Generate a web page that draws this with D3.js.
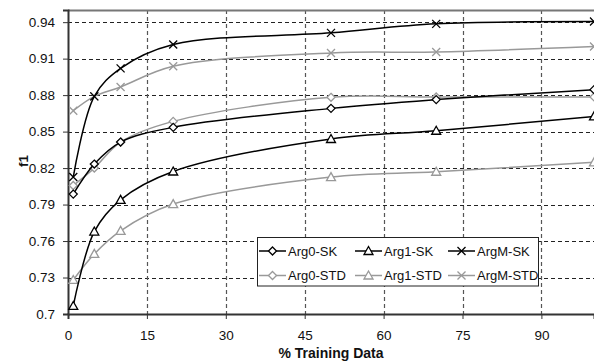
<!DOCTYPE html>
<html><head><meta charset="utf-8">
<script src="https://cdn.jsdelivr.net/npm/d3@7"></script>
<style>body{margin:0;background:#fff}svg{display:block;font-family:"Liberation Sans",Arial,sans-serif}</style>
</head><body><svg id="c" width="594" height="362"></svg>
<script>
const xValues = [1, 5, 10, 20, 50, 70, 100];
const arg0SK  = [0.7986, 0.8233, 0.8414, 0.8535, 0.8691, 0.8763, 0.8845];
const arg1SK  = [0.7066, 0.7678, 0.7939, 0.8172, 0.8439, 0.8507, 0.8625];
const argMSK  = [0.8126, 0.8790, 0.9020, 0.9216, 0.9312, 0.9386, 0.9405];
const arg0STD = [0.8057, 0.8200, 0.8414, 0.8584, 0.8782, 0.8785, 0.8785];
const arg1STD = [0.7280, 0.7494, 0.7684, 0.7904, 0.8126, 0.8170, 0.8247];
const argMSTD = [0.8672, 0.8790, 0.8867, 0.9037, 0.9147, 0.9155, 0.9200];
const seriesNames = ["Arg0-SK","Arg1-SK","ArgM-SK","Arg0-STD","Arg1-STD","ArgM-STD"];
const xTicks = [0, 15, 30, 45, 60, 75, 90];
const yTicks = [0.7, 0.73, 0.76, 0.79, 0.82, 0.85, 0.88, 0.91, 0.94];

const series = [
  {name: seriesNames[0], values: arg0SK, color: "#000", marker: "diamond"},
  {name: seriesNames[1], values: arg1SK, color: "#000", marker: "triangle"},
  {name: seriesNames[2], values: argMSK, color: "#000", marker: "x"},
  {name: seriesNames[3], values: arg0STD, color: "#999", marker: "diamond"},
  {name: seriesNames[4], values: arg1STD, color: "#999", marker: "triangle"},
  {name: seriesNames[5], values: argMSTD, color: "#999", marker: "x"}
];

const svg = d3.select("#c");
const L = 68, R = 594, T = 10, B = 314;
const x = d3.scaleLinear().domain([0, 100]).range([L, R]);
const y = d3.scaleLinear().domain([0.7, 0.95]).range([B, T]);

// gridlines
svg.append("g").selectAll("line").data(yTicks.slice(1)).join("line")
  .attr("x1", L).attr("x2", R).attr("y1", d => Math.round(y(d)) + 0.5).attr("y2", d => Math.round(y(d)) + 0.5)
  .attr("stroke", "#222").attr("stroke-dasharray", "4,3");
svg.append("g").selectAll("line").data(xTicks.slice(1)).join("line")
  .attr("y1", T).attr("y2", B).attr("x1", d => Math.round(x(d)) + 0.5).attr("x2", d => Math.round(x(d)) + 0.5)
  .attr("stroke", "#555").attr("stroke-width", 1.2).attr("stroke-dasharray", "4,3");

// top border
svg.append("line").attr("x1", L).attr("x2", R).attr("y1", T + 0.5).attr("y2", T + 0.5)
  .attr("stroke", "#777").attr("stroke-width", 2);

// axes
const yAxis = d3.axisLeft(y).tickValues(yTicks).tickFormat(d => String(+d.toFixed(2))).tickSize(5).tickPadding(8);
const gy = svg.append("g").attr("transform", `translate(${L},0)`).call(yAxis);
const xAxis = d3.axisBottom(x).tickValues(xTicks).tickFormat(d3.format("d")).tickSize(5).tickPadding(11);
const gx = svg.append("g").attr("transform", `translate(0,${B})`).call(xAxis);
[gx, gy].forEach(g => {
  g.attr("font-family", null).attr("font-size", null);
  g.select(".domain").attr("stroke", "#333").attr("stroke-width", 2);
  g.selectAll(".tick line").attr("stroke", "#333");
  g.selectAll("text").style("font-size", "13.5px").attr("fill", "#111").style("font-family", "'Liberation Sans', Arial, sans-serif");
});

// lines
const line = d3.line().x(d => x(d[0])).y(d => y(d[1])).curve(d3.curveCatmullRom.alpha(0.5));
function drawMarker(g, type, cx, cy, color) {
  if (type === "diamond") {
    g.append("path").attr("d", `M${cx},${cy-4}L${cx+4},${cy}L${cx},${cy+4}L${cx-4},${cy}Z`)
      .attr("fill", "#fff").attr("stroke", color).attr("stroke-width", 1.3);
  } else if (type === "triangle") {
    g.append("path").attr("d", `M${cx},${cy-4.5}L${cx+4.5},${cy+3.5}L${cx-4.5},${cy+3.5}Z`)
      .attr("fill", "#fff").attr("stroke", color).attr("stroke-width", 1.3);
  } else {
    g.append("path").attr("d", `M${cx-4},${cy-4}L${cx+4},${cy+4}M${cx-4},${cy+4}L${cx+4},${cy-4}`)
      .attr("fill", "none").attr("stroke", color).attr("stroke-width", 1.3);
  }
}
const order = [3, 4, 5, 0, 1, 2];
order.forEach(i => {
  const s = series[i];
  const pts = xValues.map((xv, j) => [xv, s.values[j]]);
  const g = svg.append("g");
  g.append("path").attr("d", line(pts)).attr("fill", "none").attr("stroke", s.color).attr("stroke-width", 1.5);
  pts.forEach(p => drawMarker(g, s.marker, x(p[0]), y(p[1]), s.color));
});

// legend
const lg = svg.append("g");
lg.append("rect").attr("x", 257.5).attr("y", 237.5).attr("width", 281).attr("height", 48.5)
  .attr("fill", "#fff").attr("stroke", "#222").attr("stroke-width", 1);
const colX = [258, 354, 447];
const rowY = [251, 275.5];
series.forEach((s, i) => {
  const cx = colX[i % 3], cy = rowY[Math.floor(i / 3)];
  lg.append("line").attr("x1", cx + 1).attr("x2", cx + 28).attr("y1", cy).attr("y2", cy)
    .attr("stroke", s.color).attr("stroke-width", 1.5);
  drawMarker(lg, s.marker, cx + 14.5, cy, s.color);
  lg.append("text").attr("x", cx + 30).attr("y", cy).attr("dy", "0.35em")
    .attr("font-size", 13).attr("fill", "#111").text(s.name);
});

// axis titles
svg.append("text").attr("x", 331).attr("y", 358).attr("text-anchor", "middle")
  .attr("font-size", 14).attr("font-weight", "bold").attr("fill", "#111").text("% Training Data");
svg.append("text").attr("transform", "translate(28,161) rotate(-90)").attr("text-anchor", "middle")
  .attr("font-size", 13.5).attr("font-weight", "bold").attr("fill", "#111").text("f1");
</script></body></html>
